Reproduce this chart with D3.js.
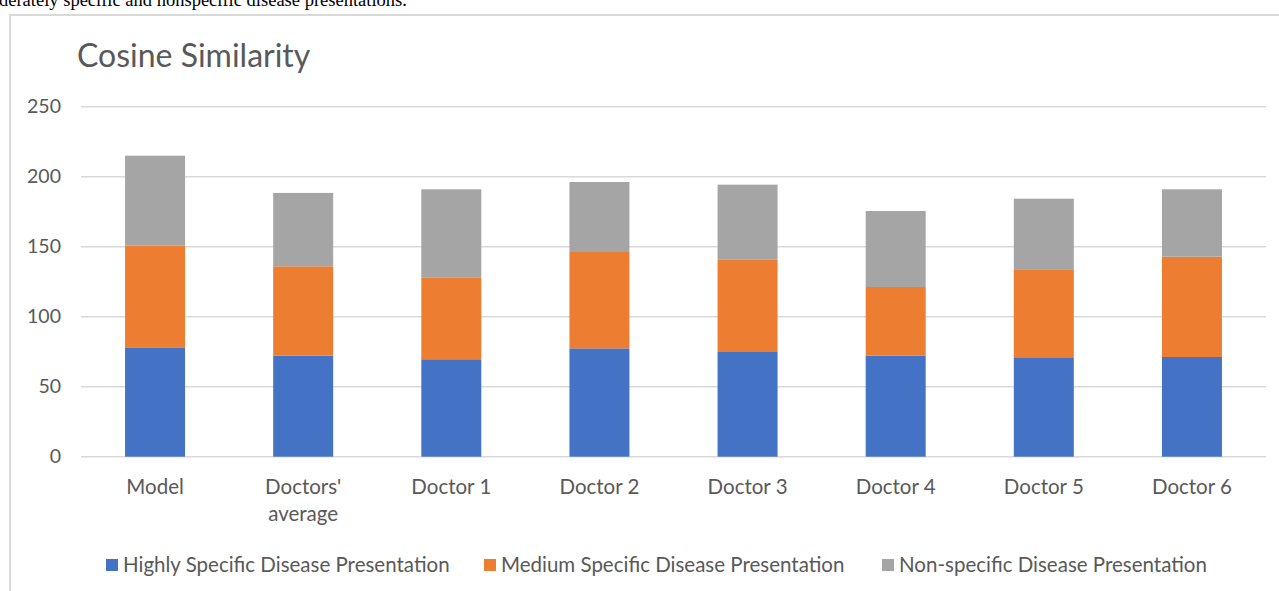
<!DOCTYPE html>
<html>
<head>
<meta charset="utf-8">
<script src="https://cdn.jsdelivr.net/npm/d3@7"></script>
<style>
  html, body { margin: 0; padding: 0; background: #fff; overflow: hidden; }
  svg { display: block; }
</style>
</head>
<body>
<svg id="chart" width="1279" height="591"></svg>
<script>
// Categories and stacked series (cosine similarity per presentation type)
const categories = ["Model", "Doctors' average", "Doctor 1", "Doctor 2", "Doctor 3", "Doctor 4", "Doctor 5", "Doctor 6"];
const seriesNames = ["Highly Specific Disease Presentation", "Medium Specific Disease Presentation", "Non-specific Disease Presentation"];
const highlySpecific = [78.1, 72.1, 69.6, 77.4, 74.8, 72.1, 70.5, 71.2];
const mediumSpecific = [72.6, 63.9, 58.5, 68.8, 66.2, 49.1, 62.9, 71.7];
const nonSpecific    = [64.3, 52.4, 62.9, 50.0, 53.3, 54.3, 50.9, 48.1];
const yTicks = [0, 50, 100, 150, 200, 250];
const seriesColors = ["#4472C4", "#ED7D31", "#A5A5A5"];

const svg = d3.select("#chart");
const W = 1279, H = 591;
const textColor = "#595959";
const fontFamily = "Lato, 'Open Sans', sans-serif";

// Caption line of the surrounding document, running past the top edge
svg.append("text")
  .attr("x", -1).attr("y", 6)
  .attr("font-family", "'Liberation Serif', 'Times New Roman', serif")
  .attr("font-size", 18.5)
  .attr("fill", "#000")
  .text("derately specific and nonspecific disease presentations.");

// Chart frame
svg.append("rect")
  .attr("x", 10).attr("y", 15)
  .attr("width", W + 20).attr("height", H)
  .attr("fill", "#fff")
  .attr("stroke", "#d9d9d9").attr("stroke-width", 2);

// Title
svg.append("text")
  .attr("x", 77).attr("y", 67)
  .attr("font-family", fontFamily)
  .attr("font-size", 32)
  .attr("fill", textColor)
  .text("Cosine Similarity");

const plot = { left: 81, right: 1266, top: 106.7, bottom: 456.7 };

const x = d3.scaleBand()
  .domain(categories)
  .range([plot.left, plot.right])
  .paddingInner(0.595)
  .paddingOuter(0.2975);

const y = d3.scaleLinear()
  .domain([0, 250])
  .range([plot.bottom, plot.top]);

// Horizontal gridlines
svg.append("g")
  .selectAll("line")
  .data(yTicks)
  .join("line")
  .attr("x1", plot.left).attr("x2", plot.right)
  .attr("y1", d => y(d)).attr("y2", d => y(d))
  .attr("stroke", "#d9d9d9")
  .attr("stroke-width", 1.5);

// Y axis labels
const yAxis = d3.axisLeft(y).tickValues(yTicks).tickSize(0).tickPadding(0);
const yAxisG = svg.append("g")
  .attr("transform", `translate(61,0)`)
  .call(yAxis);
yAxisG.select(".domain").remove();
yAxisG.selectAll("text")
  .attr("font-family", fontFamily)
  .attr("font-size", 19.5)
  .attr("fill", textColor);

// Stacked bars
const rows = categories.map((c, i) => ({
  category: c,
  [seriesNames[0]]: highlySpecific[i],
  [seriesNames[1]]: mediumSpecific[i],
  [seriesNames[2]]: nonSpecific[i]
}));
const stacked = d3.stack().keys(seriesNames)(rows);

svg.append("g")
  .selectAll("g")
  .data(stacked)
  .join("g")
  .attr("fill", (d, i) => seriesColors[i])
  .selectAll("rect")
  .data(d => d)
  .join("rect")
  .attr("x", d => x(d.data.category))
  .attr("width", x.bandwidth())
  .attr("y", d => y(d[1]))
  .attr("height", d => y(d[0]) - y(d[1]));

// Category labels (wrapped onto two lines where needed)
const xLabelLines = { "Doctors' average": ["Doctors'", "average"] };
const xLabels = svg.append("g")
  .selectAll("text")
  .data(categories)
  .join("text")
  .attr("x", d => x(d) + x.bandwidth() / 2)
  .attr("y", 494)
  .attr("text-anchor", "middle")
  .attr("font-family", fontFamily)
  .attr("font-size", 20.5)
  .attr("fill", textColor);
xLabels.each(function(d) {
  const lines = xLabelLines[d] || [d];
  const t = d3.select(this);
  lines.forEach((ln, k) => {
    t.append("tspan")
      .attr("x", x(d) + x.bandwidth() / 2)
      .attr("dy", k === 0 ? 0 : 27)
      .text(ln);
  });
});

// Legend
const legendX = [106, 484, 882];
const legend = svg.append("g")
  .selectAll("g")
  .data(seriesNames)
  .join("g")
  .attr("transform", (d, i) => `translate(${legendX[i]},559)`);
legend.append("rect")
  .attr("width", 12).attr("height", 12)
  .attr("fill", (d, i) => seriesColors[i]);
legend.append("text")
  .attr("x", 17).attr("y", 13)
  .attr("font-family", fontFamily)
  .attr("font-size", 20.5)
  .attr("fill", textColor)
  .text(d => d);
</script>
</body>
</html>
